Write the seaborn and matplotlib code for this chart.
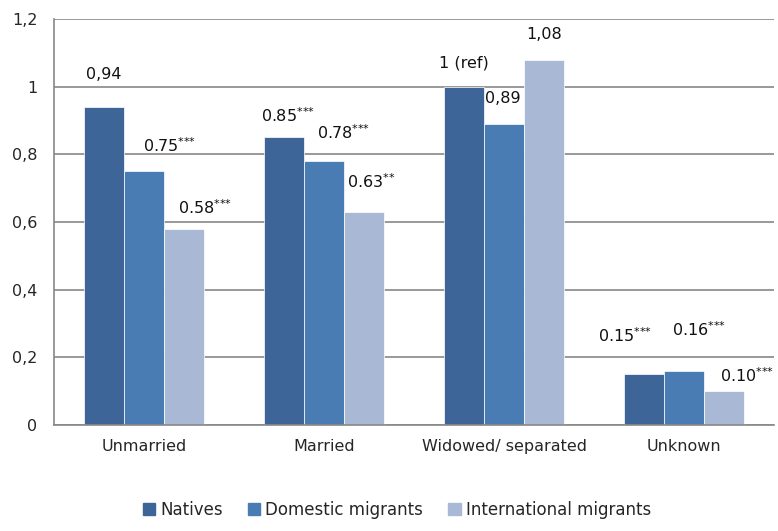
import numpy as np
import pandas as pd
import matplotlib
matplotlib.use('Agg')
import matplotlib.pyplot as plt
import seaborn as sns

# -> DATA
categories = ['Unmarried', 'Married', 'Widowed/ separated', 'Unknown']
groups = ['Natives', 'Domestic migrants', 'International migrants']
natives = [0.94, 0.85, 1.00, 0.15]
domestic = [0.75, 0.78, 0.89, 0.16]
international = [0.58, 0.63, 1.08, 0.10]

S3 = '$^{{*}{*}{*}}$'
S2 = '$^{{*}{*}}$'
labels_natives = ['0,94', '0.85' + S3, '1 (ref)', '0.15' + S3]
labels_domestic = ['0.75' + S3, '0.78' + S3, '0,89', '0.16' + S3]
labels_international = ['0.58' + S3, '0.63' + S2, '1,08', '0.10' + S3]

y_ticks = [0, 0.2, 0.4, 0.6, 0.8, 1.0, 1.2]
y_ticklabels = ['0', '0,2', '0,4', '0,6', '0,8', '1', '1,2']

colors = ['#3e6597', '#4a7cb4', '#a9b9d5']

# label offsets in pixels (dx, dy) from the top centre of each bar
offsets = [
    [(0, 32), (4, 22), (0, 24), (-19, 39)],
    [(25, 26), (19, 28), (-1, 25), (15, 41)],
    [(21, 21), (7, 30), (0, 25), (23, 16)],
]

df = pd.DataFrame({
    'category': categories * 3,
    'group': [g for g in groups for _ in categories],
    'value': natives + domestic + international,
})

sns.set_style('white')
plt.rcParams['font.family'] = ['DejaVu Sans']
plt.rcParams['mathtext.fontset'] = 'dejavusans'

fig = plt.figure(figsize=(7.78, 5.31), dpi=100)
ax = fig.add_axes([54 / 778, 106 / 531, 720 / 778, 406 / 531])

sns.barplot(data=df, x='category', y='value', hue='group', order=categories,
            hue_order=groups, palette=colors, width=0.667, saturation=1,
            edgecolor='white', linewidth=0.5, ax=ax, legend=True)

ax.set_ylim(0, 1.2)
ax.set_xlim(-0.5, 3.5)
ax.set_yticks(y_ticks)
ax.set_yticklabels(y_ticklabels, fontsize=11.5)
ax.set_xlabel('')
ax.set_ylabel('')
ax.tick_params(axis='x', which='major', length=0, labelsize=11.5, pad=10)
ax.set_xticks(np.arange(-0.5, 4, 1), minor=True)
ax.tick_params(axis='x', which='minor', length=6, width=1.2, color='#888888', direction='out')
ax.tick_params(axis='y', length=6, width=1.2, color='#888888', direction='out', pad=6)
ax.yaxis.grid(True, color='#888888', linewidth=1.2)
ax.set_axisbelow(True)
for s in ['top', 'right']:
    ax.spines[s].set_visible(False)
for s in ['left', 'bottom']:
    ax.spines[s].set_color('#888888')
    ax.spines[s].set_linewidth(1.2)

all_labels = [labels_natives, labels_domestic, labels_international]
for container, labs, offs in zip(ax.containers, all_labels, offsets):
    for bar, lab, (dx, dy) in zip(container, labs, offs):
        x = bar.get_x() + bar.get_width() / 2
        y = bar.get_height()
        ax.annotate(lab, (x, y), xytext=(dx, dy), textcoords='offset pixels',
                    ha='center', va='center', fontsize=11.5, color='#111111',
                    annotation_clip=False)

ax.get_legend().remove()
handles = [plt.Rectangle((0, 0), 1, 1, color=c) for c in colors]
fig.legend(handles, groups, loc='lower center', ncol=3, frameon=False,
           fontsize=12, handlelength=0.75, handleheight=0.75, handletextpad=0.3,
           columnspacing=1.5, bbox_to_anchor=(0.51, -0.005))

fig.savefig('out.png', dpi=100)
